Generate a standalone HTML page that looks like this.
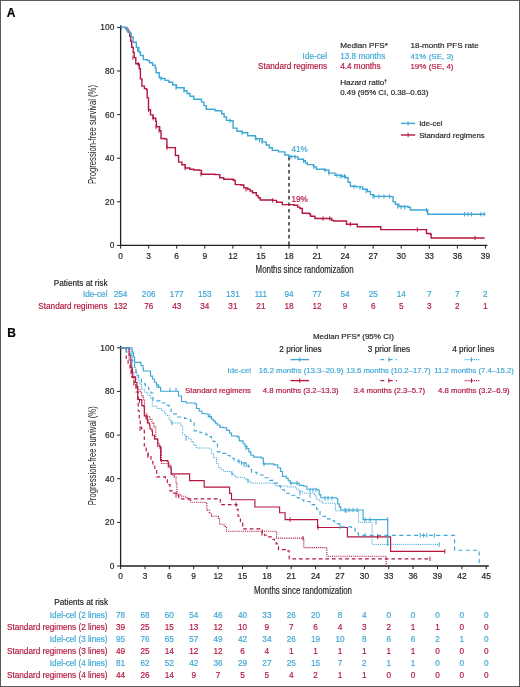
<!DOCTYPE html><html><head><meta charset="utf-8"><style>html,body{margin:0;padding:0;background:#fff;}svg{display:block;font-family:"Liberation Sans", sans-serif;will-change:transform;}</style></head><body>
<svg width="520" height="687" viewBox="0 0 520 687">
<rect x="0" y="0" width="520" height="687" fill="#fff"/>
<rect x="0.5" y="0.5" width="519" height="686" fill="none" stroke="#5a5a5a" stroke-width="1"/>
<text x="6.8" y="17.0" font-size="12.00" fill="#000" stroke="#000" stroke-width="0.18" text-anchor="start" font-weight="bold">A</text>
<text x="7.2" y="337.0" font-size="12.00" fill="#000" stroke="#000" stroke-width="0.18" text-anchor="start" font-weight="bold">B</text>
<line x1="120.6" y1="25.4" x2="120.6" y2="246.0" stroke="#231f20" stroke-width="1.3"/>
<line x1="120.0" y1="245.4" x2="487.5" y2="245.4" stroke="#231f20" stroke-width="1.3"/>
<line x1="117.1" y1="245.4" x2="120.6" y2="245.4" stroke="#231f20" stroke-width="1"/>
<text x="114.3" y="248.4" font-size="8.40" fill="#231f20" stroke="#231f20" stroke-width="0.18" text-anchor="end" >0</text>
<line x1="117.1" y1="201.8" x2="120.6" y2="201.8" stroke="#231f20" stroke-width="1"/>
<text x="114.3" y="204.8" font-size="8.40" fill="#231f20" stroke="#231f20" stroke-width="0.18" text-anchor="end" >20</text>
<line x1="117.1" y1="158.2" x2="120.6" y2="158.2" stroke="#231f20" stroke-width="1"/>
<text x="114.3" y="161.2" font-size="8.40" fill="#231f20" stroke="#231f20" stroke-width="0.18" text-anchor="end" >40</text>
<line x1="117.1" y1="114.6" x2="120.6" y2="114.6" stroke="#231f20" stroke-width="1"/>
<text x="114.3" y="117.6" font-size="8.40" fill="#231f20" stroke="#231f20" stroke-width="0.18" text-anchor="end" >60</text>
<line x1="117.1" y1="71.0" x2="120.6" y2="71.0" stroke="#231f20" stroke-width="1"/>
<text x="114.3" y="74.0" font-size="8.40" fill="#231f20" stroke="#231f20" stroke-width="0.18" text-anchor="end" >80</text>
<line x1="117.1" y1="27.4" x2="120.6" y2="27.4" stroke="#231f20" stroke-width="1"/>
<text x="114.3" y="30.4" font-size="8.40" fill="#231f20" stroke="#231f20" stroke-width="0.18" text-anchor="end" >100</text>
<line x1="120.6" y1="245.4" x2="120.6" y2="248.6" stroke="#231f20" stroke-width="1"/>
<text x="120.6" y="259.4" font-size="8.40" fill="#231f20" stroke="#231f20" stroke-width="0.18" text-anchor="middle" >0</text>
<line x1="148.7" y1="245.4" x2="148.7" y2="248.6" stroke="#231f20" stroke-width="1"/>
<text x="148.7" y="259.4" font-size="8.40" fill="#231f20" stroke="#231f20" stroke-width="0.18" text-anchor="middle" >3</text>
<line x1="176.7" y1="245.4" x2="176.7" y2="248.6" stroke="#231f20" stroke-width="1"/>
<text x="176.7" y="259.4" font-size="8.40" fill="#231f20" stroke="#231f20" stroke-width="0.18" text-anchor="middle" >6</text>
<line x1="204.8" y1="245.4" x2="204.8" y2="248.6" stroke="#231f20" stroke-width="1"/>
<text x="204.8" y="259.4" font-size="8.40" fill="#231f20" stroke="#231f20" stroke-width="0.18" text-anchor="middle" >9</text>
<line x1="232.9" y1="245.4" x2="232.9" y2="248.6" stroke="#231f20" stroke-width="1"/>
<text x="232.9" y="259.4" font-size="8.40" fill="#231f20" stroke="#231f20" stroke-width="0.18" text-anchor="middle" >12</text>
<line x1="260.9" y1="245.4" x2="260.9" y2="248.6" stroke="#231f20" stroke-width="1"/>
<text x="260.9" y="259.4" font-size="8.40" fill="#231f20" stroke="#231f20" stroke-width="0.18" text-anchor="middle" >15</text>
<line x1="289.0" y1="245.4" x2="289.0" y2="248.6" stroke="#231f20" stroke-width="1"/>
<text x="289.0" y="259.4" font-size="8.40" fill="#231f20" stroke="#231f20" stroke-width="0.18" text-anchor="middle" >18</text>
<line x1="317.1" y1="245.4" x2="317.1" y2="248.6" stroke="#231f20" stroke-width="1"/>
<text x="317.1" y="259.4" font-size="8.40" fill="#231f20" stroke="#231f20" stroke-width="0.18" text-anchor="middle" >21</text>
<line x1="345.1" y1="245.4" x2="345.1" y2="248.6" stroke="#231f20" stroke-width="1"/>
<text x="345.1" y="259.4" font-size="8.40" fill="#231f20" stroke="#231f20" stroke-width="0.18" text-anchor="middle" >24</text>
<line x1="373.2" y1="245.4" x2="373.2" y2="248.6" stroke="#231f20" stroke-width="1"/>
<text x="373.2" y="259.4" font-size="8.40" fill="#231f20" stroke="#231f20" stroke-width="0.18" text-anchor="middle" >27</text>
<line x1="401.2" y1="245.4" x2="401.2" y2="248.6" stroke="#231f20" stroke-width="1"/>
<text x="401.2" y="259.4" font-size="8.40" fill="#231f20" stroke="#231f20" stroke-width="0.18" text-anchor="middle" >30</text>
<line x1="429.3" y1="245.4" x2="429.3" y2="248.6" stroke="#231f20" stroke-width="1"/>
<text x="429.3" y="259.4" font-size="8.40" fill="#231f20" stroke="#231f20" stroke-width="0.18" text-anchor="middle" >33</text>
<line x1="457.4" y1="245.4" x2="457.4" y2="248.6" stroke="#231f20" stroke-width="1"/>
<text x="457.4" y="259.4" font-size="8.40" fill="#231f20" stroke="#231f20" stroke-width="0.18" text-anchor="middle" >36</text>
<line x1="485.4" y1="245.4" x2="485.4" y2="248.6" stroke="#231f20" stroke-width="1"/>
<text x="485.4" y="259.4" font-size="8.40" fill="#231f20" stroke="#231f20" stroke-width="0.18" text-anchor="middle" >39</text>
<text x="304.6" y="273.2" font-size="10.00" fill="#231f20" stroke="#231f20" stroke-width="0.18" text-anchor="middle" textLength="98" lengthAdjust="spacingAndGlyphs">Months since randomization</text>
<text x="0" y="0" font-size="10.0" fill="#231f20" text-anchor="middle" transform="translate(95.5,134.5) rotate(-90)" textLength="99" lengthAdjust="spacingAndGlyphs">Progression-free survival (%)</text>
<line x1="289" y1="157" x2="289" y2="245" stroke="#333" stroke-width="1.5" stroke-dasharray="3.6,2.9"/>
<path d="M120.60,27.40H125.50V27.60H126.10V29.10H128.10V32.10H129.70V36.20H130.70V41.30H131.70V47.40H133.20V52.50H134.20V57.60H135.80V63.70H138.30V64.20H139.30V68.80H140.40V78.90H141.90V86.10H144.40V88.60H146.50V89.60H147.20V97.90H148.50V109.70H150.50V114.90H153.10V118.20H155.70V121.40H156.40V126.70H159.70V130.60H161.00V138.50H164.90V139.10H166.90V147.60H172.80V147.60H175.40V155.50H178.60V162.10H181.90V164.70H185.20V168.00H189.80V169.30H193.80V170.00H199.60V170.40H201.50V174.20H215.00V174.60H219.80V177.70H223.70V179.20H233.30V180.20H235.20V184.60H241.00V185.00H243.80V187.90H247.70V189.20H250.10V190.95H252.50V192.70H256.30V195.60H258.25V197.80H260.20V200.00H272.70V200.40H276.50V202.30H282.30V204.60H293.80V205.20H297.70V207.10H300.00V208.50H302.30V213.30H309.60V214.20H310.60V216.20H314.40V216.50H315.00V218.50H329.80V218.50H331.70V220.40H333.70V221.00H346.20V221.00H346.50V224.20H356.70V224.20H357.30V226.70H379.80V226.70H380.80V229.60H425.50V229.60H426.50V233.50H430.50V234.20H431.20V238.00H484.60V238.00" fill="none" stroke="#b3173f" stroke-width="1.4"/>
<path d="M120.60,27.40H125.10V27.50H127.10V31.10H129.70V33.10H131.20V37.20H133.20V42.30H136.30V47.40H138.80V52.00H140.40V55.50H143.40V59.60H147.50V60.60H149.50V62.70H152.60V65.20H155.10V67.70H156.10V72.80H159.20V77.90H161.20V78.50H165.00V80.40H168.80V82.30H172.65V85.00H176.50V87.70H184.20V90.80H187.10V93.55H190.00V96.30H193.80V99.20H201.50V102.10H203.90V105.65H206.30V109.20H215.00V110.80H221.70V113.70H224.10V117.05H226.50V120.40H230.40V120.80H233.10V128.10H236.90V131.20H242.30V132.70H247.70V135.80H255.40V138.80H262.30V141.90H266.20V145.00H269.25V147.70H272.30V150.40H278.50V151.90H284.80V155.00H288.70V156.50H295.40V156.90H298.00V159.20H303.50V160.80H305.40V162.70H307.30V164.60H313.50V166.90H316.50V169.20H324.20V170.00H328.80V173.10H335.00V175.40H341.20V176.20H345.80V177.70H348.10V182.30H350.40V186.20H356.50V186.90H362.70V189.20H367.30V191.50H370.40V194.60H373.50V196.40H390.80V196.60H393.10V201.90H395.40V204.20H398.80V206.50H408.10V207.20H410.40V210.00H426.50V210.00H427.70V214.20H485.40V214.20" fill="none" stroke="#3fa7d6" stroke-width="1.4"/>
<line x1="121.5" y1="25.3" x2="121.5" y2="29.7" stroke="#3fa7d6" stroke-width="1.00"/>
<line x1="137.5" y1="47.3" x2="137.5" y2="51.7" stroke="#3fa7d6" stroke-width="1.00"/>
<line x1="161.0" y1="76.3" x2="161.0" y2="80.7" stroke="#3fa7d6" stroke-width="1.00"/>
<line x1="176.0" y1="85.5" x2="176.0" y2="89.9" stroke="#3fa7d6" stroke-width="1.00"/>
<line x1="184.0" y1="88.6" x2="184.0" y2="93.0" stroke="#3fa7d6" stroke-width="1.00"/>
<line x1="230.0" y1="118.6" x2="230.0" y2="123.0" stroke="#3fa7d6" stroke-width="1.00"/>
<line x1="242.0" y1="130.5" x2="242.0" y2="134.9" stroke="#3fa7d6" stroke-width="1.00"/>
<line x1="256.0" y1="136.6" x2="256.0" y2="141.0" stroke="#3fa7d6" stroke-width="1.00"/>
<line x1="259.5" y1="138.1" x2="259.5" y2="142.5" stroke="#3fa7d6" stroke-width="1.00"/>
<line x1="262.0" y1="139.7" x2="262.0" y2="144.1" stroke="#3fa7d6" stroke-width="1.00"/>
<line x1="291.0" y1="154.7" x2="291.0" y2="159.1" stroke="#3fa7d6" stroke-width="1.00"/>
<line x1="295.0" y1="154.8" x2="295.0" y2="159.2" stroke="#3fa7d6" stroke-width="1.00"/>
<line x1="303.5" y1="158.6" x2="303.5" y2="163.0" stroke="#3fa7d6" stroke-width="1.00"/>
<line x1="314.0" y1="164.8" x2="314.0" y2="169.2" stroke="#3fa7d6" stroke-width="1.00"/>
<line x1="325.0" y1="167.8" x2="325.0" y2="172.2" stroke="#3fa7d6" stroke-width="1.00"/>
<line x1="329.0" y1="170.9" x2="329.0" y2="175.3" stroke="#3fa7d6" stroke-width="1.00"/>
<line x1="337.0" y1="173.2" x2="337.0" y2="177.6" stroke="#3fa7d6" stroke-width="1.00"/>
<line x1="340.0" y1="174.0" x2="340.0" y2="178.4" stroke="#3fa7d6" stroke-width="1.00"/>
<line x1="342.0" y1="174.0" x2="342.0" y2="178.4" stroke="#3fa7d6" stroke-width="1.00"/>
<line x1="344.5" y1="174.0" x2="344.5" y2="178.4" stroke="#3fa7d6" stroke-width="1.00"/>
<line x1="354.0" y1="184.7" x2="354.0" y2="189.1" stroke="#3fa7d6" stroke-width="1.00"/>
<line x1="360.0" y1="185.6" x2="360.0" y2="190.0" stroke="#3fa7d6" stroke-width="1.00"/>
<line x1="366.0" y1="188.8" x2="366.0" y2="193.2" stroke="#3fa7d6" stroke-width="1.00"/>
<line x1="373.0" y1="194.2" x2="373.0" y2="198.6" stroke="#3fa7d6" stroke-width="1.00"/>
<line x1="374.0" y1="194.1" x2="374.0" y2="198.5" stroke="#3fa7d6" stroke-width="1.00"/>
<line x1="379.0" y1="194.4" x2="379.0" y2="198.8" stroke="#3fa7d6" stroke-width="1.00"/>
<line x1="384.0" y1="194.4" x2="384.0" y2="198.8" stroke="#3fa7d6" stroke-width="1.00"/>
<line x1="389.6" y1="194.4" x2="389.6" y2="198.8" stroke="#3fa7d6" stroke-width="1.00"/>
<line x1="397.7" y1="204.3" x2="397.7" y2="208.7" stroke="#3fa7d6" stroke-width="1.00"/>
<line x1="401.0" y1="205.0" x2="401.0" y2="209.4" stroke="#3fa7d6" stroke-width="1.00"/>
<line x1="404.6" y1="205.0" x2="404.6" y2="209.4" stroke="#3fa7d6" stroke-width="1.00"/>
<line x1="426.5" y1="207.8" x2="426.5" y2="212.2" stroke="#3fa7d6" stroke-width="1.00"/>
<line x1="464.6" y1="212.0" x2="464.6" y2="216.4" stroke="#3fa7d6" stroke-width="1.00"/>
<line x1="468.1" y1="212.0" x2="468.1" y2="216.4" stroke="#3fa7d6" stroke-width="1.00"/>
<line x1="471.5" y1="212.0" x2="471.5" y2="216.4" stroke="#3fa7d6" stroke-width="1.00"/>
<line x1="480.8" y1="212.0" x2="480.8" y2="216.4" stroke="#3fa7d6" stroke-width="1.00"/>
<line x1="484.2" y1="212.0" x2="484.2" y2="216.4" stroke="#3fa7d6" stroke-width="1.00"/>
<line x1="133.0" y1="55.4" x2="133.0" y2="59.8" stroke="#b3173f" stroke-width="1.00"/>
<line x1="138.3" y1="62.0" x2="138.3" y2="66.4" stroke="#b3173f" stroke-width="1.00"/>
<line x1="148.5" y1="107.5" x2="148.5" y2="111.9" stroke="#b3173f" stroke-width="1.00"/>
<line x1="153.0" y1="116.0" x2="153.0" y2="120.4" stroke="#b3173f" stroke-width="1.00"/>
<line x1="156.0" y1="124.5" x2="156.0" y2="128.9" stroke="#b3173f" stroke-width="1.00"/>
<line x1="159.0" y1="128.4" x2="159.0" y2="132.8" stroke="#b3173f" stroke-width="1.00"/>
<line x1="167.0" y1="145.4" x2="167.0" y2="149.8" stroke="#b3173f" stroke-width="1.00"/>
<line x1="185.2" y1="165.8" x2="185.2" y2="170.2" stroke="#b3173f" stroke-width="1.00"/>
<line x1="201.0" y1="172.0" x2="201.0" y2="176.4" stroke="#b3173f" stroke-width="1.00"/>
<line x1="246.0" y1="187.0" x2="246.0" y2="191.4" stroke="#b3173f" stroke-width="1.00"/>
<line x1="272.7" y1="198.2" x2="272.7" y2="202.6" stroke="#b3173f" stroke-width="1.00"/>
<line x1="323.0" y1="216.3" x2="323.0" y2="220.7" stroke="#b3173f" stroke-width="1.00"/>
<line x1="329.8" y1="216.3" x2="329.8" y2="220.7" stroke="#b3173f" stroke-width="1.00"/>
<line x1="350.4" y1="222.0" x2="350.4" y2="226.4" stroke="#b3173f" stroke-width="1.00"/>
<line x1="417.3" y1="227.4" x2="417.3" y2="231.8" stroke="#b3173f" stroke-width="1.00"/>
<line x1="475.0" y1="235.8" x2="475.0" y2="240.2" stroke="#b3173f" stroke-width="1.00"/>
<text x="291.5" y="152.0" font-size="8.20" fill="#3fa7d6" stroke="#3fa7d6" stroke-width="0.18" text-anchor="start" >41%</text>
<text x="291.5" y="201.8" font-size="8.20" fill="#b3173f" stroke="#b3173f" stroke-width="0.18" text-anchor="start" >19%</text>
<text x="340.2" y="47.9" font-size="8.10" fill="#231f20" stroke="#231f20" stroke-width="0.18" text-anchor="start" >Median PFS*</text>
<text x="410.4" y="47.9" font-size="8.10" fill="#231f20" stroke="#231f20" stroke-width="0.18" text-anchor="start" >18-month PFS rate</text>
<text x="327.2" y="58.6" font-size="8.20" fill="#3fa7d6" stroke="#3fa7d6" stroke-width="0.18" text-anchor="end" >Ide-cel</text>
<text x="340.2" y="58.6" font-size="8.20" fill="#3fa7d6" stroke="#3fa7d6" stroke-width="0.18" text-anchor="start" >13.8 months</text>
<text x="410.4" y="58.6" font-size="8.00" fill="#3fa7d6" stroke="#3fa7d6" stroke-width="0.18" text-anchor="start" >41% (SE, 3)</text>
<text x="327.2" y="69.0" font-size="8.20" fill="#b3173f" stroke="#b3173f" stroke-width="0.18" text-anchor="end" >Standard regimens</text>
<text x="340.2" y="69.0" font-size="8.20" fill="#b3173f" stroke="#b3173f" stroke-width="0.18" text-anchor="start" >4.4 months</text>
<text x="410.4" y="69.0" font-size="8.00" fill="#b3173f" stroke="#b3173f" stroke-width="0.18" text-anchor="start" >19% (SE, 4)</text>
<text x="340.2" y="85.1" font-size="8.10" fill="#231f20" stroke="#231f20" stroke-width="0.18" text-anchor="start" >Hazard ratio<tspan font-size="4.6" dy="-2.6">†</tspan></text>
<text x="340.2" y="94.8" font-size="7.90" fill="#231f20" stroke="#231f20" stroke-width="0.18" text-anchor="start" >0.49 (95% CI, 0.38–0.63)</text>
<line x1="401" y1="123.4" x2="415.2" y2="123.4" stroke="#3fa7d6" stroke-width="1.4"/>
<line x1="408.1" y1="121.2" x2="408.1" y2="125.6" stroke="#3fa7d6" stroke-width="1.00"/>
<text x="419.2" y="126.2" font-size="7.80" fill="#231f20" stroke="#231f20" stroke-width="0.18" text-anchor="start" >Ide-cel</text>
<line x1="401" y1="135" x2="415.2" y2="135" stroke="#b3173f" stroke-width="1.4"/>
<line x1="408.1" y1="132.8" x2="408.1" y2="137.2" stroke="#b3173f" stroke-width="1.00"/>
<text x="419.2" y="137.8" font-size="7.75" fill="#231f20" stroke="#231f20" stroke-width="0.18" text-anchor="start" >Standard regimens</text>
<text x="107.5" y="285.5" font-size="8.20" fill="#231f20" stroke="#231f20" stroke-width="0.18" text-anchor="end" >Patients at risk</text>
<text x="107.5" y="297.2" font-size="8.20" fill="#3fa7d6" stroke="#3fa7d6" stroke-width="0.18" text-anchor="end" >Ide-cel</text>
<text x="107.5" y="308.9" font-size="8.20" fill="#b3173f" stroke="#b3173f" stroke-width="0.18" text-anchor="end" >Standard regimens</text>
<text x="120.6" y="297.2" font-size="8.20" fill="#3fa7d6" stroke="#3fa7d6" stroke-width="0.18" text-anchor="middle" >254</text>
<text x="120.6" y="308.9" font-size="8.20" fill="#b3173f" stroke="#b3173f" stroke-width="0.18" text-anchor="middle" >132</text>
<text x="148.7" y="297.2" font-size="8.20" fill="#3fa7d6" stroke="#3fa7d6" stroke-width="0.18" text-anchor="middle" >206</text>
<text x="148.7" y="308.9" font-size="8.20" fill="#b3173f" stroke="#b3173f" stroke-width="0.18" text-anchor="middle" >76</text>
<text x="176.7" y="297.2" font-size="8.20" fill="#3fa7d6" stroke="#3fa7d6" stroke-width="0.18" text-anchor="middle" >177</text>
<text x="176.7" y="308.9" font-size="8.20" fill="#b3173f" stroke="#b3173f" stroke-width="0.18" text-anchor="middle" >43</text>
<text x="204.8" y="297.2" font-size="8.20" fill="#3fa7d6" stroke="#3fa7d6" stroke-width="0.18" text-anchor="middle" >153</text>
<text x="204.8" y="308.9" font-size="8.20" fill="#b3173f" stroke="#b3173f" stroke-width="0.18" text-anchor="middle" >34</text>
<text x="232.9" y="297.2" font-size="8.20" fill="#3fa7d6" stroke="#3fa7d6" stroke-width="0.18" text-anchor="middle" >131</text>
<text x="232.9" y="308.9" font-size="8.20" fill="#b3173f" stroke="#b3173f" stroke-width="0.18" text-anchor="middle" >31</text>
<text x="260.9" y="297.2" font-size="8.20" fill="#3fa7d6" stroke="#3fa7d6" stroke-width="0.18" text-anchor="middle" >111</text>
<text x="260.9" y="308.9" font-size="8.20" fill="#b3173f" stroke="#b3173f" stroke-width="0.18" text-anchor="middle" >21</text>
<text x="289.0" y="297.2" font-size="8.20" fill="#3fa7d6" stroke="#3fa7d6" stroke-width="0.18" text-anchor="middle" >94</text>
<text x="289.0" y="308.9" font-size="8.20" fill="#b3173f" stroke="#b3173f" stroke-width="0.18" text-anchor="middle" >18</text>
<text x="317.1" y="297.2" font-size="8.20" fill="#3fa7d6" stroke="#3fa7d6" stroke-width="0.18" text-anchor="middle" >77</text>
<text x="317.1" y="308.9" font-size="8.20" fill="#b3173f" stroke="#b3173f" stroke-width="0.18" text-anchor="middle" >12</text>
<text x="345.1" y="297.2" font-size="8.20" fill="#3fa7d6" stroke="#3fa7d6" stroke-width="0.18" text-anchor="middle" >54</text>
<text x="345.1" y="308.9" font-size="8.20" fill="#b3173f" stroke="#b3173f" stroke-width="0.18" text-anchor="middle" >9</text>
<text x="373.2" y="297.2" font-size="8.20" fill="#3fa7d6" stroke="#3fa7d6" stroke-width="0.18" text-anchor="middle" >25</text>
<text x="373.2" y="308.9" font-size="8.20" fill="#b3173f" stroke="#b3173f" stroke-width="0.18" text-anchor="middle" >6</text>
<text x="401.2" y="297.2" font-size="8.20" fill="#3fa7d6" stroke="#3fa7d6" stroke-width="0.18" text-anchor="middle" >14</text>
<text x="401.2" y="308.9" font-size="8.20" fill="#b3173f" stroke="#b3173f" stroke-width="0.18" text-anchor="middle" >5</text>
<text x="429.3" y="297.2" font-size="8.20" fill="#3fa7d6" stroke="#3fa7d6" stroke-width="0.18" text-anchor="middle" >7</text>
<text x="429.3" y="308.9" font-size="8.20" fill="#b3173f" stroke="#b3173f" stroke-width="0.18" text-anchor="middle" >3</text>
<text x="457.4" y="297.2" font-size="8.20" fill="#3fa7d6" stroke="#3fa7d6" stroke-width="0.18" text-anchor="middle" >7</text>
<text x="457.4" y="308.9" font-size="8.20" fill="#b3173f" stroke="#b3173f" stroke-width="0.18" text-anchor="middle" >2</text>
<text x="485.4" y="297.2" font-size="8.20" fill="#3fa7d6" stroke="#3fa7d6" stroke-width="0.18" text-anchor="middle" >2</text>
<text x="485.4" y="308.9" font-size="8.20" fill="#b3173f" stroke="#b3173f" stroke-width="0.18" text-anchor="middle" >1</text>
<line x1="120.6" y1="345.8" x2="120.6" y2="566.6" stroke="#231f20" stroke-width="1.3"/>
<line x1="120.0" y1="566.0" x2="488.8" y2="566.0" stroke="#231f20" stroke-width="1.3"/>
<line x1="117.1" y1="566.0" x2="120.6" y2="566.0" stroke="#231f20" stroke-width="1"/>
<text x="114.3" y="569.0" font-size="8.40" fill="#231f20" stroke="#231f20" stroke-width="0.18" text-anchor="end" >0</text>
<line x1="117.1" y1="522.4" x2="120.6" y2="522.4" stroke="#231f20" stroke-width="1"/>
<text x="114.3" y="525.4" font-size="8.40" fill="#231f20" stroke="#231f20" stroke-width="0.18" text-anchor="end" >20</text>
<line x1="117.1" y1="478.7" x2="120.6" y2="478.7" stroke="#231f20" stroke-width="1"/>
<text x="114.3" y="481.7" font-size="8.40" fill="#231f20" stroke="#231f20" stroke-width="0.18" text-anchor="end" >40</text>
<line x1="117.1" y1="435.1" x2="120.6" y2="435.1" stroke="#231f20" stroke-width="1"/>
<text x="114.3" y="438.1" font-size="8.40" fill="#231f20" stroke="#231f20" stroke-width="0.18" text-anchor="end" >60</text>
<line x1="117.1" y1="391.4" x2="120.6" y2="391.4" stroke="#231f20" stroke-width="1"/>
<text x="114.3" y="394.4" font-size="8.40" fill="#231f20" stroke="#231f20" stroke-width="0.18" text-anchor="end" >80</text>
<line x1="117.1" y1="347.8" x2="120.6" y2="347.8" stroke="#231f20" stroke-width="1"/>
<text x="114.3" y="350.8" font-size="8.40" fill="#231f20" stroke="#231f20" stroke-width="0.18" text-anchor="end" >100</text>
<line x1="120.6" y1="566.0" x2="120.6" y2="569.2" stroke="#231f20" stroke-width="1"/>
<text x="120.6" y="579.4" font-size="8.40" fill="#231f20" stroke="#231f20" stroke-width="0.18" text-anchor="middle" >0</text>
<line x1="145.0" y1="566.0" x2="145.0" y2="569.2" stroke="#231f20" stroke-width="1"/>
<text x="145.0" y="579.4" font-size="8.40" fill="#231f20" stroke="#231f20" stroke-width="0.18" text-anchor="middle" >3</text>
<line x1="169.3" y1="566.0" x2="169.3" y2="569.2" stroke="#231f20" stroke-width="1"/>
<text x="169.3" y="579.4" font-size="8.40" fill="#231f20" stroke="#231f20" stroke-width="0.18" text-anchor="middle" >6</text>
<line x1="193.7" y1="566.0" x2="193.7" y2="569.2" stroke="#231f20" stroke-width="1"/>
<text x="193.7" y="579.4" font-size="8.40" fill="#231f20" stroke="#231f20" stroke-width="0.18" text-anchor="middle" >9</text>
<line x1="218.1" y1="566.0" x2="218.1" y2="569.2" stroke="#231f20" stroke-width="1"/>
<text x="218.1" y="579.4" font-size="8.40" fill="#231f20" stroke="#231f20" stroke-width="0.18" text-anchor="middle" >12</text>
<line x1="242.5" y1="566.0" x2="242.5" y2="569.2" stroke="#231f20" stroke-width="1"/>
<text x="242.5" y="579.4" font-size="8.40" fill="#231f20" stroke="#231f20" stroke-width="0.18" text-anchor="middle" >15</text>
<line x1="266.9" y1="566.0" x2="266.9" y2="569.2" stroke="#231f20" stroke-width="1"/>
<text x="266.9" y="579.4" font-size="8.40" fill="#231f20" stroke="#231f20" stroke-width="0.18" text-anchor="middle" >18</text>
<line x1="291.2" y1="566.0" x2="291.2" y2="569.2" stroke="#231f20" stroke-width="1"/>
<text x="291.2" y="579.4" font-size="8.40" fill="#231f20" stroke="#231f20" stroke-width="0.18" text-anchor="middle" >21</text>
<line x1="315.6" y1="566.0" x2="315.6" y2="569.2" stroke="#231f20" stroke-width="1"/>
<text x="315.6" y="579.4" font-size="8.40" fill="#231f20" stroke="#231f20" stroke-width="0.18" text-anchor="middle" >24</text>
<line x1="340.0" y1="566.0" x2="340.0" y2="569.2" stroke="#231f20" stroke-width="1"/>
<text x="340.0" y="579.4" font-size="8.40" fill="#231f20" stroke="#231f20" stroke-width="0.18" text-anchor="middle" >27</text>
<line x1="364.4" y1="566.0" x2="364.4" y2="569.2" stroke="#231f20" stroke-width="1"/>
<text x="364.4" y="579.4" font-size="8.40" fill="#231f20" stroke="#231f20" stroke-width="0.18" text-anchor="middle" >30</text>
<line x1="388.7" y1="566.0" x2="388.7" y2="569.2" stroke="#231f20" stroke-width="1"/>
<text x="388.7" y="579.4" font-size="8.40" fill="#231f20" stroke="#231f20" stroke-width="0.18" text-anchor="middle" >33</text>
<line x1="413.1" y1="566.0" x2="413.1" y2="569.2" stroke="#231f20" stroke-width="1"/>
<text x="413.1" y="579.4" font-size="8.40" fill="#231f20" stroke="#231f20" stroke-width="0.18" text-anchor="middle" >36</text>
<line x1="437.5" y1="566.0" x2="437.5" y2="569.2" stroke="#231f20" stroke-width="1"/>
<text x="437.5" y="579.4" font-size="8.40" fill="#231f20" stroke="#231f20" stroke-width="0.18" text-anchor="middle" >39</text>
<line x1="461.9" y1="566.0" x2="461.9" y2="569.2" stroke="#231f20" stroke-width="1"/>
<text x="461.9" y="579.4" font-size="8.40" fill="#231f20" stroke="#231f20" stroke-width="0.18" text-anchor="middle" >42</text>
<line x1="486.2" y1="566.0" x2="486.2" y2="569.2" stroke="#231f20" stroke-width="1"/>
<text x="486.2" y="579.4" font-size="8.40" fill="#231f20" stroke="#231f20" stroke-width="0.18" text-anchor="middle" >45</text>
<text x="302.9" y="593.6" font-size="10.00" fill="#231f20" stroke="#231f20" stroke-width="0.18" text-anchor="middle" textLength="98" lengthAdjust="spacingAndGlyphs">Months since randomization</text>
<text x="0" y="0" font-size="10.0" fill="#231f20" text-anchor="middle" transform="translate(95.5,455.8) rotate(-90)" textLength="99" lengthAdjust="spacingAndGlyphs">Progression-free survival (%)</text>
<path d="M120.60,347.80H127.00V347.80H129.00V360.00H131.50V372.00H133.80V384.60H135.87V387.17H137.93V389.73H140.00V392.30H141.65V396.15H143.30V400.00H144.60V413.80H147.30V416.50H150.00V419.20H151.90V423.05H153.80V426.90H155.80V438.50H157.70V443.25H159.60V448.00H161.50V463.50H169.20V465.40H171.20V475.00H174.00V476.90H176.00V482.70H176.90V494.20H180.80V496.20H186.20V497.70H188.50V500.00H190.80V502.30H205.80V503.50H206.90V510.40H209.20V513.30H211.50V516.20H218.50V518.50H219.60V524.20H224.20V526.50H226.50V531.20H276.20V531.20H276.60V538.10H303.10V538.10H303.80V547.60H326.20V547.60H326.80V556.30H386.20V556.30H386.20V566.00" fill="none" stroke="#b3173f" stroke-width="1.10" stroke-dasharray="1,0.9"/>
<path d="M120.60,347.80H125.50V347.80H126.20V360.00H128.10V365.00H130.00V370.00H132.00V377.50H134.00V385.00H136.00V392.00H138.20V400.00H138.20V411.00H139.30V419.00H140.30V427.00H141.50V428.60H144.20V428.60H144.30V446.20H146.20V451.00H148.10V455.80H151.00V461.50H152.90V465.35H154.80V469.20H156.70V476.90H165.40V477.90H167.30V484.60H170.00V490.80H173.45V493.10H176.90V495.40H178.65V497.10H180.40V498.80H219.60V498.80H220.30V504.60H234.60V504.60H236.90V509.20H238.10V516.20H240.40V523.10H242.70V528.80H260.00V530.00H262.30V533.50H264.60V535.20H266.90V536.90H272.70V539.20H274.45V541.50H276.20V543.80H278.50V549.60H285.40V550.80H289.20V553.10H289.20V558.80H430.00V558.80" fill="none" stroke="#b3173f" stroke-width="1.15" stroke-dasharray="3.7,2.9"/>
<path d="M120.60,347.80H127.70V347.80H129.20V355.40H130.80V367.70H132.30V376.90H135.40V382.30H136.90V386.20H137.70V399.50H141.30V400.50H141.80V405.60H143.80V406.70H144.30V415.80H146.90V417.90H147.40V423.00H149.40V425.00H150.00V429.00H152.00V431.10H152.50V435.20H154.50V439.20H157.70V446.20H160.60V450.00H160.60V460.60H167.50V461.30H168.30V467.00H170.60V468.10H171.20V473.80H189.00V473.80H189.60V480.60H203.50V480.60H204.20V487.10H228.70V487.10H229.60V493.40H231.50V499.70H254.60V499.70H254.90V507.00H278.50V507.00H279.60V512.70H285.10V513.40H285.10V519.60H317.20V519.60H317.60V527.50H347.20V527.50H347.40V536.90H390.60V536.90H390.60V551.40H444.80V551.40" fill="none" stroke="#b3173f" stroke-width="1.15" />
<path d="M120.60,347.80H128.50V347.80H129.50V350.00H132.30V367.00H135.40V373.00H136.90V380.00H139.20V383.80H141.50V389.20H144.60V392.30H147.70V395.40H150.80V398.50H152.30V406.20H157.00V408.50H161.50V410.80H164.60V413.00H166.00V415.40H169.20V420.00H171.20V423.00H180.80V426.00H182.70V434.60H185.60V436.55H188.50V438.50H191.07V441.67H193.63V444.83H196.20V448.00H209.60V449.00H211.55V453.35H213.50V457.70H216.50V463.50H218.50V467.70H221.15V469.60H223.80V471.50H231.50V473.50H233.45V475.40H235.40V477.30H245.00V479.20H247.90V481.15H250.80V483.10H270.00V483.10H275.80V486.00H287.30V486.90H296.20V489.20H299.25V491.15H302.30V493.10H314.60V495.40H316.20V499.20H319.25V501.15H322.30V503.10H334.60V503.80H335.40V510.80H357.70V510.80H358.50V522.30H372.10V522.30H372.10V544.40H439.20V544.40" fill="none" stroke="#3fa7d6" stroke-width="1.00" stroke-dasharray="1,0.9"/>
<path d="M120.60,347.80H125.40V347.80H126.50V352.00H128.50V353.00H131.00V360.00H132.80V363.85H134.60V367.70H136.20V375.40H138.50V379.20H141.50V383.80H145.40V386.20H148.50V389.20H150.80V393.00H153.00V400.80H157.00V400.80H160.80V403.00H166.00V405.40H169.20V409.20H171.10V411.50H173.00V413.80H177.70V417.00H184.60V418.50H188.50V419.20H190.40V421.10H192.30V423.00H194.20V430.80H200.00V432.70H205.80V434.60H208.65V436.55H211.50V438.50H213.25V441.35H215.00V444.20H217.50V451.90H220.00V453.30H228.00V455.50H230.00V456.20H232.00V458.20H234.00V460.20H238.00V461.50H242.10V462.90H246.20V464.90H248.20V466.60H250.20V468.30H251.50V472.30H256.90V475.00H263.00V477.70H269.00V480.40H273.00V483.10H278.50V485.80H280.50V487.80H282.50V489.80H284.50V491.50H286.50V493.20H290.60V495.20H297.30V497.90H300.55V499.70H303.80V501.50H310.00V504.60H314.60V506.90H316.55V509.20H318.50V511.50H320.00V516.20H325.40V516.90H327.70V518.85H330.00V520.80H334.60V523.80H340.80V526.90H351.50V527.70H355.00V530.80H356.75V533.05H358.50V535.30H454.60V535.30H454.60V550.20H479.20V550.20H479.20V566.00" fill="none" stroke="#3fa7d6" stroke-width="1.15" stroke-dasharray="4,3.4"/>
<path d="M120.60,347.80H130.80V347.80H132.00V352.00H133.50V357.00H134.60V362.30H139.20V362.30H141.00V365.50H143.00V368.50H143.30V371.00H149.40V371.00H150.50V376.10H152.50V379.00H154.50V382.20H156.50V385.00H158.60V387.30H160.60V391.20H177.00V391.20H178.50V396.00H181.50V401.50H186.20V403.00H195.00V404.00H196.50V408.50H199.20V411.00H201.90V413.50H205.00V414.00H208.25V416.60H211.50V419.20H213.43V421.13H215.37V423.07H217.30V425.00H220.00V427.30H223.80V427.70H226.70V430.40H229.60V433.10H231.50V436.00H237.30V436.90H239.20V440.80H243.10V443.70H245.00V446.10H246.90V448.50H248.85V451.85H250.80V455.20H253.70V457.10H261.30V458.10H263.30V463.80H273.80V464.80H277.70V467.70H280.60V471.50H282.50V476.30H286.30V478.30H288.25V480.70H290.20V483.10H298.50V483.10H299.20V485.40H303.80V486.20H306.90V489.20H317.70V490.00H319.20V494.60H320.80V497.70H336.20V498.50H337.70V503.80H339.20V506.90H340.80V510.00H362.30V510.00H363.10V519.60H387.70V519.60H387.70V543.80" fill="none" stroke="#3fa7d6" stroke-width="1.15" />
<line x1="157.0" y1="383.8" x2="157.0" y2="388.2" stroke="#3fa7d6" stroke-width="1.00"/>
<line x1="170.0" y1="387.8" x2="170.0" y2="392.2" stroke="#3fa7d6" stroke-width="1.00"/>
<line x1="176.0" y1="387.8" x2="176.0" y2="392.2" stroke="#3fa7d6" stroke-width="1.00"/>
<line x1="210.0" y1="413.8" x2="210.0" y2="418.2" stroke="#3fa7d6" stroke-width="1.00"/>
<line x1="246.0" y1="445.8" x2="246.0" y2="450.2" stroke="#3fa7d6" stroke-width="1.00"/>
<line x1="264.0" y1="461.8" x2="264.0" y2="466.2" stroke="#3fa7d6" stroke-width="1.00"/>
<line x1="291.0" y1="480.9" x2="291.0" y2="485.3" stroke="#3fa7d6" stroke-width="1.00"/>
<line x1="297.0" y1="480.9" x2="297.0" y2="485.3" stroke="#3fa7d6" stroke-width="1.00"/>
<line x1="310.0" y1="487.8" x2="310.0" y2="492.2" stroke="#3fa7d6" stroke-width="1.00"/>
<line x1="313.0" y1="487.8" x2="313.0" y2="492.2" stroke="#3fa7d6" stroke-width="1.00"/>
<line x1="316.0" y1="487.8" x2="316.0" y2="492.2" stroke="#3fa7d6" stroke-width="1.00"/>
<line x1="325.0" y1="496.1" x2="325.0" y2="500.5" stroke="#3fa7d6" stroke-width="1.00"/>
<line x1="328.0" y1="496.1" x2="328.0" y2="500.5" stroke="#3fa7d6" stroke-width="1.00"/>
<line x1="332.0" y1="496.1" x2="332.0" y2="500.5" stroke="#3fa7d6" stroke-width="1.00"/>
<line x1="345.0" y1="507.8" x2="345.0" y2="512.2" stroke="#3fa7d6" stroke-width="1.00"/>
<line x1="349.0" y1="507.8" x2="349.0" y2="512.2" stroke="#3fa7d6" stroke-width="1.00"/>
<line x1="353.0" y1="507.8" x2="353.0" y2="512.2" stroke="#3fa7d6" stroke-width="1.00"/>
<line x1="357.0" y1="507.8" x2="357.0" y2="512.2" stroke="#3fa7d6" stroke-width="1.00"/>
<line x1="365.0" y1="517.4" x2="365.0" y2="521.8" stroke="#3fa7d6" stroke-width="1.00"/>
<line x1="370.0" y1="517.4" x2="370.0" y2="521.8" stroke="#3fa7d6" stroke-width="1.00"/>
<line x1="387.7" y1="517.4" x2="387.7" y2="521.8" stroke="#3fa7d6" stroke-width="1.00"/>
<line x1="387.7" y1="541.6" x2="387.7" y2="546.0" stroke="#3fa7d6" stroke-width="1.00"/>
<line x1="239.0" y1="459.3" x2="239.0" y2="463.7" stroke="#3fa7d6" stroke-width="1.00"/>
<line x1="241.5" y1="460.7" x2="241.5" y2="465.1" stroke="#3fa7d6" stroke-width="1.00"/>
<line x1="244.0" y1="462.7" x2="244.0" y2="467.1" stroke="#3fa7d6" stroke-width="1.00"/>
<line x1="246.2" y1="462.7" x2="246.2" y2="467.1" stroke="#3fa7d6" stroke-width="1.00"/>
<line x1="340.0" y1="524.7" x2="340.0" y2="529.1" stroke="#3fa7d6" stroke-width="1.00"/>
<line x1="365.0" y1="533.1" x2="365.0" y2="537.5" stroke="#3fa7d6" stroke-width="1.00"/>
<line x1="420.2" y1="533.1" x2="420.2" y2="537.5" stroke="#3fa7d6" stroke-width="1.00"/>
<line x1="423.7" y1="533.1" x2="423.7" y2="537.5" stroke="#3fa7d6" stroke-width="1.00"/>
<line x1="426.8" y1="533.1" x2="426.8" y2="537.5" stroke="#3fa7d6" stroke-width="1.00"/>
<line x1="434.4" y1="533.1" x2="434.4" y2="537.5" stroke="#3fa7d6" stroke-width="1.00"/>
<line x1="172.0" y1="420.8" x2="172.0" y2="425.2" stroke="#3fa7d6" stroke-width="1.00"/>
<line x1="186.0" y1="436.3" x2="186.0" y2="440.7" stroke="#3fa7d6" stroke-width="1.00"/>
<line x1="232.0" y1="471.3" x2="232.0" y2="475.7" stroke="#3fa7d6" stroke-width="1.00"/>
<line x1="248.0" y1="478.8" x2="248.0" y2="483.2" stroke="#3fa7d6" stroke-width="1.00"/>
<line x1="300.0" y1="490.9" x2="300.0" y2="495.3" stroke="#3fa7d6" stroke-width="1.00"/>
<line x1="310.0" y1="493.2" x2="310.0" y2="497.6" stroke="#3fa7d6" stroke-width="1.00"/>
<line x1="346.0" y1="508.6" x2="346.0" y2="513.0" stroke="#3fa7d6" stroke-width="1.00"/>
<line x1="376.0" y1="520.1" x2="376.0" y2="524.5" stroke="#3fa7d6" stroke-width="1.00"/>
<line x1="439.2" y1="542.2" x2="439.2" y2="546.6" stroke="#3fa7d6" stroke-width="1.00"/>
<line x1="139.5" y1="398.6" x2="139.5" y2="403.0" stroke="#b3173f" stroke-width="1.00"/>
<line x1="146.0" y1="415.1" x2="146.0" y2="419.5" stroke="#b3173f" stroke-width="1.00"/>
<line x1="148.0" y1="419.0" x2="148.0" y2="423.4" stroke="#b3173f" stroke-width="1.00"/>
<line x1="290.0" y1="517.4" x2="290.0" y2="521.8" stroke="#b3173f" stroke-width="1.00"/>
<line x1="318.0" y1="525.3" x2="318.0" y2="529.7" stroke="#b3173f" stroke-width="1.00"/>
<line x1="377.7" y1="534.7" x2="377.7" y2="539.1" stroke="#b3173f" stroke-width="1.00"/>
<line x1="444.8" y1="549.2" x2="444.8" y2="553.6" stroke="#b3173f" stroke-width="1.00"/>
<line x1="140.0" y1="426.6" x2="140.0" y2="431.0" stroke="#b3173f" stroke-width="1.00"/>
<line x1="148.0" y1="453.6" x2="148.0" y2="458.0" stroke="#b3173f" stroke-width="1.00"/>
<line x1="176.0" y1="493.2" x2="176.0" y2="497.6" stroke="#b3173f" stroke-width="1.00"/>
<line x1="236.0" y1="502.4" x2="236.0" y2="506.8" stroke="#b3173f" stroke-width="1.00"/>
<line x1="262.0" y1="531.3" x2="262.0" y2="535.7" stroke="#b3173f" stroke-width="1.00"/>
<line x1="430.0" y1="556.6" x2="430.0" y2="561.0" stroke="#b3173f" stroke-width="1.00"/>
<line x1="131.0" y1="369.8" x2="131.0" y2="374.2" stroke="#b3173f" stroke-width="1.00"/>
<line x1="303.0" y1="535.9" x2="303.0" y2="540.3" stroke="#b3173f" stroke-width="1.00"/>
<text x="251.0" y="372.6" font-size="7.80" fill="#3fa7d6" stroke="#3fa7d6" stroke-width="0.18" text-anchor="end" >Ide-cel</text>
<text x="251.0" y="393.2" font-size="7.80" fill="#b3173f" stroke="#b3173f" stroke-width="0.18" text-anchor="end" >Standard regimens</text>
<text x="312.9" y="339.4" font-size="8.00" fill="#231f20" stroke="#231f20" stroke-width="0.18" text-anchor="start" >Median PFS* (95% CI)</text>
<text x="300.5" y="351.5" font-size="8.20" fill="#231f20" stroke="#231f20" stroke-width="0.18" text-anchor="middle" >2 prior lines</text>
<text x="389.0" y="351.5" font-size="8.20" fill="#231f20" stroke="#231f20" stroke-width="0.18" text-anchor="middle" >3 prior lines</text>
<text x="473.3" y="351.5" font-size="8.20" fill="#231f20" stroke="#231f20" stroke-width="0.18" text-anchor="middle" >4 prior lines</text>
<line x1="290.5" y1="359.6" x2="309.0" y2="359.6" stroke="#3fa7d6" stroke-width="1.40" />
<line x1="299.7" y1="357.4" x2="299.7" y2="361.8" stroke="#3fa7d6" stroke-width="1.00"/>
<line x1="380.4" y1="359.6" x2="384.2" y2="359.6" stroke="#3fa7d6" stroke-width="1.20" />
<line x1="388.4" y1="359.6" x2="392.6" y2="359.6" stroke="#3fa7d6" stroke-width="1.20" />
<line x1="395.8" y1="359.6" x2="397.0" y2="359.6" stroke="#3fa7d6" stroke-width="1.20" />
<line x1="388.9" y1="357.4" x2="388.9" y2="361.8" stroke="#3fa7d6" stroke-width="1.00"/>
<line x1="464.6" y1="359.6" x2="480.0" y2="359.6" stroke="#3fa7d6" stroke-width="1.20" stroke-dasharray="1,0.9"/>
<line x1="471.5" y1="357.4" x2="471.5" y2="361.8" stroke="#3fa7d6" stroke-width="1.00"/>
<line x1="290.5" y1="380.6" x2="309.0" y2="380.6" stroke="#b3173f" stroke-width="1.40" />
<line x1="299.7" y1="378.4" x2="299.7" y2="382.8" stroke="#b3173f" stroke-width="1.00"/>
<line x1="380.4" y1="380.6" x2="384.2" y2="380.6" stroke="#b3173f" stroke-width="1.20" />
<line x1="388.4" y1="380.6" x2="392.6" y2="380.6" stroke="#b3173f" stroke-width="1.20" />
<line x1="395.8" y1="380.6" x2="397.0" y2="380.6" stroke="#b3173f" stroke-width="1.20" />
<line x1="388.9" y1="378.4" x2="388.9" y2="382.8" stroke="#b3173f" stroke-width="1.00"/>
<line x1="464.6" y1="380.6" x2="480.0" y2="380.6" stroke="#b3173f" stroke-width="1.20" stroke-dasharray="1,0.9"/>
<line x1="471.5" y1="378.4" x2="471.5" y2="382.8" stroke="#b3173f" stroke-width="1.00"/>
<text x="301.1" y="372.6" font-size="7.75" fill="#3fa7d6" stroke="#3fa7d6" stroke-width="0.18" text-anchor="middle" >16.2 months (13.3–20.9)</text>
<text x="388.4" y="372.6" font-size="7.75" fill="#3fa7d6" stroke="#3fa7d6" stroke-width="0.18" text-anchor="middle" >13.6 months (10.2–17.7)</text>
<text x="474.1" y="372.6" font-size="7.75" fill="#3fa7d6" stroke="#3fa7d6" stroke-width="0.18" text-anchor="middle" >11.2 months (7.4–15.2)</text>
<text x="300.7" y="393.2" font-size="7.75" fill="#b3173f" stroke="#b3173f" stroke-width="0.18" text-anchor="middle" >4.8 months (3.2–13.3)</text>
<text x="389.3" y="393.2" font-size="7.75" fill="#b3173f" stroke="#b3173f" stroke-width="0.18" text-anchor="middle" >3.4 months (2.3–5.7)</text>
<text x="473.8" y="393.2" font-size="7.75" fill="#b3173f" stroke="#b3173f" stroke-width="0.18" text-anchor="middle" >4.8 months (3.2–6.9)</text>
<text x="108.0" y="605.0" font-size="8.20" fill="#231f20" stroke="#231f20" stroke-width="0.18" text-anchor="end" >Patients at risk</text>
<text x="107.6" y="617.5" font-size="8.20" fill="#3fa7d6" stroke="#3fa7d6" stroke-width="0.18" text-anchor="end" >Idel-cel (2 lines)</text>
<text x="120.6" y="617.5" font-size="8.20" fill="#3fa7d6" stroke="#3fa7d6" stroke-width="0.18" text-anchor="middle" >78</text>
<text x="145.0" y="617.5" font-size="8.20" fill="#3fa7d6" stroke="#3fa7d6" stroke-width="0.18" text-anchor="middle" >68</text>
<text x="169.3" y="617.5" font-size="8.20" fill="#3fa7d6" stroke="#3fa7d6" stroke-width="0.18" text-anchor="middle" >60</text>
<text x="193.7" y="617.5" font-size="8.20" fill="#3fa7d6" stroke="#3fa7d6" stroke-width="0.18" text-anchor="middle" >54</text>
<text x="218.1" y="617.5" font-size="8.20" fill="#3fa7d6" stroke="#3fa7d6" stroke-width="0.18" text-anchor="middle" >46</text>
<text x="242.5" y="617.5" font-size="8.20" fill="#3fa7d6" stroke="#3fa7d6" stroke-width="0.18" text-anchor="middle" >40</text>
<text x="266.9" y="617.5" font-size="8.20" fill="#3fa7d6" stroke="#3fa7d6" stroke-width="0.18" text-anchor="middle" >33</text>
<text x="291.2" y="617.5" font-size="8.20" fill="#3fa7d6" stroke="#3fa7d6" stroke-width="0.18" text-anchor="middle" >26</text>
<text x="315.6" y="617.5" font-size="8.20" fill="#3fa7d6" stroke="#3fa7d6" stroke-width="0.18" text-anchor="middle" >20</text>
<text x="340.0" y="617.5" font-size="8.20" fill="#3fa7d6" stroke="#3fa7d6" stroke-width="0.18" text-anchor="middle" >8</text>
<text x="364.4" y="617.5" font-size="8.20" fill="#3fa7d6" stroke="#3fa7d6" stroke-width="0.18" text-anchor="middle" >4</text>
<text x="388.7" y="617.5" font-size="8.20" fill="#3fa7d6" stroke="#3fa7d6" stroke-width="0.18" text-anchor="middle" >0</text>
<text x="413.1" y="617.5" font-size="8.20" fill="#3fa7d6" stroke="#3fa7d6" stroke-width="0.18" text-anchor="middle" >0</text>
<text x="437.5" y="617.5" font-size="8.20" fill="#3fa7d6" stroke="#3fa7d6" stroke-width="0.18" text-anchor="middle" >0</text>
<text x="461.9" y="617.5" font-size="8.20" fill="#3fa7d6" stroke="#3fa7d6" stroke-width="0.18" text-anchor="middle" >0</text>
<text x="486.2" y="617.5" font-size="8.20" fill="#3fa7d6" stroke="#3fa7d6" stroke-width="0.18" text-anchor="middle" >0</text>
<text x="107.6" y="629.8" font-size="8.20" fill="#b3173f" stroke="#b3173f" stroke-width="0.18" text-anchor="end" >Standard regimens (2 lines)</text>
<text x="120.6" y="629.8" font-size="8.20" fill="#b3173f" stroke="#b3173f" stroke-width="0.18" text-anchor="middle" >39</text>
<text x="145.0" y="629.8" font-size="8.20" fill="#b3173f" stroke="#b3173f" stroke-width="0.18" text-anchor="middle" >25</text>
<text x="169.3" y="629.8" font-size="8.20" fill="#b3173f" stroke="#b3173f" stroke-width="0.18" text-anchor="middle" >15</text>
<text x="193.7" y="629.8" font-size="8.20" fill="#b3173f" stroke="#b3173f" stroke-width="0.18" text-anchor="middle" >13</text>
<text x="218.1" y="629.8" font-size="8.20" fill="#b3173f" stroke="#b3173f" stroke-width="0.18" text-anchor="middle" >12</text>
<text x="242.5" y="629.8" font-size="8.20" fill="#b3173f" stroke="#b3173f" stroke-width="0.18" text-anchor="middle" >10</text>
<text x="266.9" y="629.8" font-size="8.20" fill="#b3173f" stroke="#b3173f" stroke-width="0.18" text-anchor="middle" >9</text>
<text x="291.2" y="629.8" font-size="8.20" fill="#b3173f" stroke="#b3173f" stroke-width="0.18" text-anchor="middle" >7</text>
<text x="315.6" y="629.8" font-size="8.20" fill="#b3173f" stroke="#b3173f" stroke-width="0.18" text-anchor="middle" >6</text>
<text x="340.0" y="629.8" font-size="8.20" fill="#b3173f" stroke="#b3173f" stroke-width="0.18" text-anchor="middle" >4</text>
<text x="364.4" y="629.8" font-size="8.20" fill="#b3173f" stroke="#b3173f" stroke-width="0.18" text-anchor="middle" >3</text>
<text x="388.7" y="629.8" font-size="8.20" fill="#b3173f" stroke="#b3173f" stroke-width="0.18" text-anchor="middle" >2</text>
<text x="413.1" y="629.8" font-size="8.20" fill="#b3173f" stroke="#b3173f" stroke-width="0.18" text-anchor="middle" >1</text>
<text x="437.5" y="629.8" font-size="8.20" fill="#b3173f" stroke="#b3173f" stroke-width="0.18" text-anchor="middle" >1</text>
<text x="461.9" y="629.8" font-size="8.20" fill="#b3173f" stroke="#b3173f" stroke-width="0.18" text-anchor="middle" >0</text>
<text x="486.2" y="629.8" font-size="8.20" fill="#b3173f" stroke="#b3173f" stroke-width="0.18" text-anchor="middle" >0</text>
<text x="107.6" y="641.6" font-size="8.20" fill="#3fa7d6" stroke="#3fa7d6" stroke-width="0.18" text-anchor="end" >Idel-cel (3 lines)</text>
<text x="120.6" y="641.6" font-size="8.20" fill="#3fa7d6" stroke="#3fa7d6" stroke-width="0.18" text-anchor="middle" >95</text>
<text x="145.0" y="641.6" font-size="8.20" fill="#3fa7d6" stroke="#3fa7d6" stroke-width="0.18" text-anchor="middle" >76</text>
<text x="169.3" y="641.6" font-size="8.20" fill="#3fa7d6" stroke="#3fa7d6" stroke-width="0.18" text-anchor="middle" >65</text>
<text x="193.7" y="641.6" font-size="8.20" fill="#3fa7d6" stroke="#3fa7d6" stroke-width="0.18" text-anchor="middle" >57</text>
<text x="218.1" y="641.6" font-size="8.20" fill="#3fa7d6" stroke="#3fa7d6" stroke-width="0.18" text-anchor="middle" >49</text>
<text x="242.5" y="641.6" font-size="8.20" fill="#3fa7d6" stroke="#3fa7d6" stroke-width="0.18" text-anchor="middle" >42</text>
<text x="266.9" y="641.6" font-size="8.20" fill="#3fa7d6" stroke="#3fa7d6" stroke-width="0.18" text-anchor="middle" >34</text>
<text x="291.2" y="641.6" font-size="8.20" fill="#3fa7d6" stroke="#3fa7d6" stroke-width="0.18" text-anchor="middle" >26</text>
<text x="315.6" y="641.6" font-size="8.20" fill="#3fa7d6" stroke="#3fa7d6" stroke-width="0.18" text-anchor="middle" >19</text>
<text x="340.0" y="641.6" font-size="8.20" fill="#3fa7d6" stroke="#3fa7d6" stroke-width="0.18" text-anchor="middle" >10</text>
<text x="364.4" y="641.6" font-size="8.20" fill="#3fa7d6" stroke="#3fa7d6" stroke-width="0.18" text-anchor="middle" >8</text>
<text x="388.7" y="641.6" font-size="8.20" fill="#3fa7d6" stroke="#3fa7d6" stroke-width="0.18" text-anchor="middle" >6</text>
<text x="413.1" y="641.6" font-size="8.20" fill="#3fa7d6" stroke="#3fa7d6" stroke-width="0.18" text-anchor="middle" >6</text>
<text x="437.5" y="641.6" font-size="8.20" fill="#3fa7d6" stroke="#3fa7d6" stroke-width="0.18" text-anchor="middle" >2</text>
<text x="461.9" y="641.6" font-size="8.20" fill="#3fa7d6" stroke="#3fa7d6" stroke-width="0.18" text-anchor="middle" >1</text>
<text x="486.2" y="641.6" font-size="8.20" fill="#3fa7d6" stroke="#3fa7d6" stroke-width="0.18" text-anchor="middle" >0</text>
<text x="107.6" y="653.8" font-size="8.20" fill="#b3173f" stroke="#b3173f" stroke-width="0.18" text-anchor="end" >Standard regimens (3 lines)</text>
<text x="120.6" y="653.8" font-size="8.20" fill="#b3173f" stroke="#b3173f" stroke-width="0.18" text-anchor="middle" >49</text>
<text x="145.0" y="653.8" font-size="8.20" fill="#b3173f" stroke="#b3173f" stroke-width="0.18" text-anchor="middle" >25</text>
<text x="169.3" y="653.8" font-size="8.20" fill="#b3173f" stroke="#b3173f" stroke-width="0.18" text-anchor="middle" >14</text>
<text x="193.7" y="653.8" font-size="8.20" fill="#b3173f" stroke="#b3173f" stroke-width="0.18" text-anchor="middle" >12</text>
<text x="218.1" y="653.8" font-size="8.20" fill="#b3173f" stroke="#b3173f" stroke-width="0.18" text-anchor="middle" >12</text>
<text x="242.5" y="653.8" font-size="8.20" fill="#b3173f" stroke="#b3173f" stroke-width="0.18" text-anchor="middle" >6</text>
<text x="266.9" y="653.8" font-size="8.20" fill="#b3173f" stroke="#b3173f" stroke-width="0.18" text-anchor="middle" >4</text>
<text x="291.2" y="653.8" font-size="8.20" fill="#b3173f" stroke="#b3173f" stroke-width="0.18" text-anchor="middle" >1</text>
<text x="315.6" y="653.8" font-size="8.20" fill="#b3173f" stroke="#b3173f" stroke-width="0.18" text-anchor="middle" >1</text>
<text x="340.0" y="653.8" font-size="8.20" fill="#b3173f" stroke="#b3173f" stroke-width="0.18" text-anchor="middle" >1</text>
<text x="364.4" y="653.8" font-size="8.20" fill="#b3173f" stroke="#b3173f" stroke-width="0.18" text-anchor="middle" >1</text>
<text x="388.7" y="653.8" font-size="8.20" fill="#b3173f" stroke="#b3173f" stroke-width="0.18" text-anchor="middle" >1</text>
<text x="413.1" y="653.8" font-size="8.20" fill="#b3173f" stroke="#b3173f" stroke-width="0.18" text-anchor="middle" >1</text>
<text x="437.5" y="653.8" font-size="8.20" fill="#b3173f" stroke="#b3173f" stroke-width="0.18" text-anchor="middle" >0</text>
<text x="461.9" y="653.8" font-size="8.20" fill="#b3173f" stroke="#b3173f" stroke-width="0.18" text-anchor="middle" >0</text>
<text x="486.2" y="653.8" font-size="8.20" fill="#b3173f" stroke="#b3173f" stroke-width="0.18" text-anchor="middle" >0</text>
<text x="107.6" y="666.0" font-size="8.20" fill="#3fa7d6" stroke="#3fa7d6" stroke-width="0.18" text-anchor="end" >Idel-cel (4 lines)</text>
<text x="120.6" y="666.0" font-size="8.20" fill="#3fa7d6" stroke="#3fa7d6" stroke-width="0.18" text-anchor="middle" >81</text>
<text x="145.0" y="666.0" font-size="8.20" fill="#3fa7d6" stroke="#3fa7d6" stroke-width="0.18" text-anchor="middle" >62</text>
<text x="169.3" y="666.0" font-size="8.20" fill="#3fa7d6" stroke="#3fa7d6" stroke-width="0.18" text-anchor="middle" >52</text>
<text x="193.7" y="666.0" font-size="8.20" fill="#3fa7d6" stroke="#3fa7d6" stroke-width="0.18" text-anchor="middle" >42</text>
<text x="218.1" y="666.0" font-size="8.20" fill="#3fa7d6" stroke="#3fa7d6" stroke-width="0.18" text-anchor="middle" >36</text>
<text x="242.5" y="666.0" font-size="8.20" fill="#3fa7d6" stroke="#3fa7d6" stroke-width="0.18" text-anchor="middle" >29</text>
<text x="266.9" y="666.0" font-size="8.20" fill="#3fa7d6" stroke="#3fa7d6" stroke-width="0.18" text-anchor="middle" >27</text>
<text x="291.2" y="666.0" font-size="8.20" fill="#3fa7d6" stroke="#3fa7d6" stroke-width="0.18" text-anchor="middle" >25</text>
<text x="315.6" y="666.0" font-size="8.20" fill="#3fa7d6" stroke="#3fa7d6" stroke-width="0.18" text-anchor="middle" >15</text>
<text x="340.0" y="666.0" font-size="8.20" fill="#3fa7d6" stroke="#3fa7d6" stroke-width="0.18" text-anchor="middle" >7</text>
<text x="364.4" y="666.0" font-size="8.20" fill="#3fa7d6" stroke="#3fa7d6" stroke-width="0.18" text-anchor="middle" >2</text>
<text x="388.7" y="666.0" font-size="8.20" fill="#3fa7d6" stroke="#3fa7d6" stroke-width="0.18" text-anchor="middle" >1</text>
<text x="413.1" y="666.0" font-size="8.20" fill="#3fa7d6" stroke="#3fa7d6" stroke-width="0.18" text-anchor="middle" >1</text>
<text x="437.5" y="666.0" font-size="8.20" fill="#3fa7d6" stroke="#3fa7d6" stroke-width="0.18" text-anchor="middle" >0</text>
<text x="461.9" y="666.0" font-size="8.20" fill="#3fa7d6" stroke="#3fa7d6" stroke-width="0.18" text-anchor="middle" >0</text>
<text x="486.2" y="666.0" font-size="8.20" fill="#3fa7d6" stroke="#3fa7d6" stroke-width="0.18" text-anchor="middle" >0</text>
<text x="107.6" y="678.0" font-size="8.20" fill="#b3173f" stroke="#b3173f" stroke-width="0.18" text-anchor="end" >Standard regimens (4 lines)</text>
<text x="120.6" y="678.0" font-size="8.20" fill="#b3173f" stroke="#b3173f" stroke-width="0.18" text-anchor="middle" >44</text>
<text x="145.0" y="678.0" font-size="8.20" fill="#b3173f" stroke="#b3173f" stroke-width="0.18" text-anchor="middle" >26</text>
<text x="169.3" y="678.0" font-size="8.20" fill="#b3173f" stroke="#b3173f" stroke-width="0.18" text-anchor="middle" >14</text>
<text x="193.7" y="678.0" font-size="8.20" fill="#b3173f" stroke="#b3173f" stroke-width="0.18" text-anchor="middle" >9</text>
<text x="218.1" y="678.0" font-size="8.20" fill="#b3173f" stroke="#b3173f" stroke-width="0.18" text-anchor="middle" >7</text>
<text x="242.5" y="678.0" font-size="8.20" fill="#b3173f" stroke="#b3173f" stroke-width="0.18" text-anchor="middle" >5</text>
<text x="266.9" y="678.0" font-size="8.20" fill="#b3173f" stroke="#b3173f" stroke-width="0.18" text-anchor="middle" >5</text>
<text x="291.2" y="678.0" font-size="8.20" fill="#b3173f" stroke="#b3173f" stroke-width="0.18" text-anchor="middle" >4</text>
<text x="315.6" y="678.0" font-size="8.20" fill="#b3173f" stroke="#b3173f" stroke-width="0.18" text-anchor="middle" >2</text>
<text x="340.0" y="678.0" font-size="8.20" fill="#b3173f" stroke="#b3173f" stroke-width="0.18" text-anchor="middle" >1</text>
<text x="364.4" y="678.0" font-size="8.20" fill="#b3173f" stroke="#b3173f" stroke-width="0.18" text-anchor="middle" >1</text>
<text x="388.7" y="678.0" font-size="8.20" fill="#b3173f" stroke="#b3173f" stroke-width="0.18" text-anchor="middle" >0</text>
<text x="413.1" y="678.0" font-size="8.20" fill="#b3173f" stroke="#b3173f" stroke-width="0.18" text-anchor="middle" >0</text>
<text x="437.5" y="678.0" font-size="8.20" fill="#b3173f" stroke="#b3173f" stroke-width="0.18" text-anchor="middle" >0</text>
<text x="461.9" y="678.0" font-size="8.20" fill="#b3173f" stroke="#b3173f" stroke-width="0.18" text-anchor="middle" >0</text>
<text x="486.2" y="678.0" font-size="8.20" fill="#b3173f" stroke="#b3173f" stroke-width="0.18" text-anchor="middle" >0</text>
</svg></body></html>
